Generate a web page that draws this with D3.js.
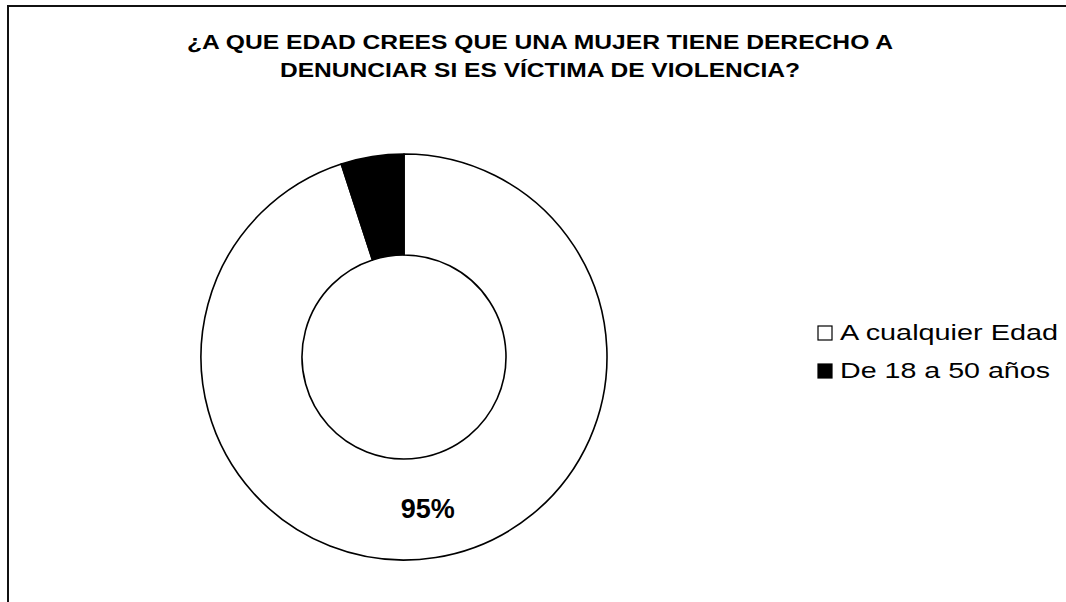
<!DOCTYPE html>
<html>
<head>
<meta charset="utf-8">
<script src="https://cdn.jsdelivr.net/npm/d3@7"></script>
<style>
  html, body { margin: 0; padding: 0; background: #fff; }
  svg { display: block; }
  text { font-family: "Liberation Sans", Arial, sans-serif; fill: #000; }
</style>
</head>
<body>
<svg id="chart" width="1066" height="602"></svg>
<script>
// Survey answers (share of respondents)
const categories = ["A cualquier Edad", "De 18 a 50 años"];
const values = [95, 5];
const fills = ["#ffffff", "#000000"];
const titleLines = [
  "¿A QUE EDAD CREES QUE UNA MUJER TIENE DERECHO A",
  "DENUNCIAR SI ES VÍCTIMA DE VIOLENCIA?"
];
const labelText = ["95%", ""];

const W = 1066, H = 602;
const svg = d3.select("#chart");

// chart frame (top and left edges)
svg.append("path")
  .attr("d", `M8,${H} L8,6 L${W},6`)
  .attr("fill", "none")
  .attr("stroke", "#111")
  .attr("stroke-width", 2);

// title
const titleWidths = [706, 520];
svg.append("g").selectAll("text")
  .data(titleLines)
  .join("text")
  .attr("x", 540)
  .attr("y", (d, i) => 49 + i * 28)
  .attr("text-anchor", "middle")
  .attr("font-size", 21)
  .attr("font-weight", "bold")
  .attr("textLength", (d, i) => titleWidths[i])
  .attr("lengthAdjust", "spacingAndGlyphs")
  .text(d => d);

// donut
const cx = 404, cy = 357, rOuter = 203, rInner = 102;
const pie = d3.pie().sort(null).value(d => d);
const arcs = pie(values);
const arc = d3.arc().innerRadius(rInner).outerRadius(rOuter);
const g = svg.append("g").attr("transform", `translate(${cx},${cy})`);

g.selectAll("path")
  .data(arcs)
  .join("path")
  .attr("d", arc)
  .attr("fill", (d, i) => fills[i])
  .attr("stroke", "#000")
  .attr("stroke-width", 1.6)
  .attr("stroke-linejoin", "round");

g.selectAll("text.lbl")
  .data(arcs)
  .join("text")
  .attr("class", "lbl")
  .attr("transform", d => {
    const [x, y] = arc.centroid(d);
    return `translate(${x},${y + 10})`;
  })
  .attr("text-anchor", "middle")
  .attr("font-size", 27)
  .attr("font-weight", "bold")
  .text((d, i) => labelText[i]);

// legend
const legend = svg.append("g").attr("transform", "translate(818,340)");
const item = legend.selectAll("g")
  .data(categories)
  .join("g")
  .attr("transform", (d, i) => `translate(0,${i * 38})`);
item.append("rect")
  .attr("x", 0).attr("y", -14)
  .attr("width", 14).attr("height", 14)
  .attr("fill", (d, i) => fills[i])
  .attr("stroke", "#000")
  .attr("stroke-width", 1.2);
item.append("text")
  .attr("x", 22)
  .attr("y", 0)
  .attr("font-size", 22)
  .attr("textLength", (d, i) => [218, 210][i])
  .attr("lengthAdjust", "spacingAndGlyphs")
  .text(d => d);
</script>
</body>
</html>
